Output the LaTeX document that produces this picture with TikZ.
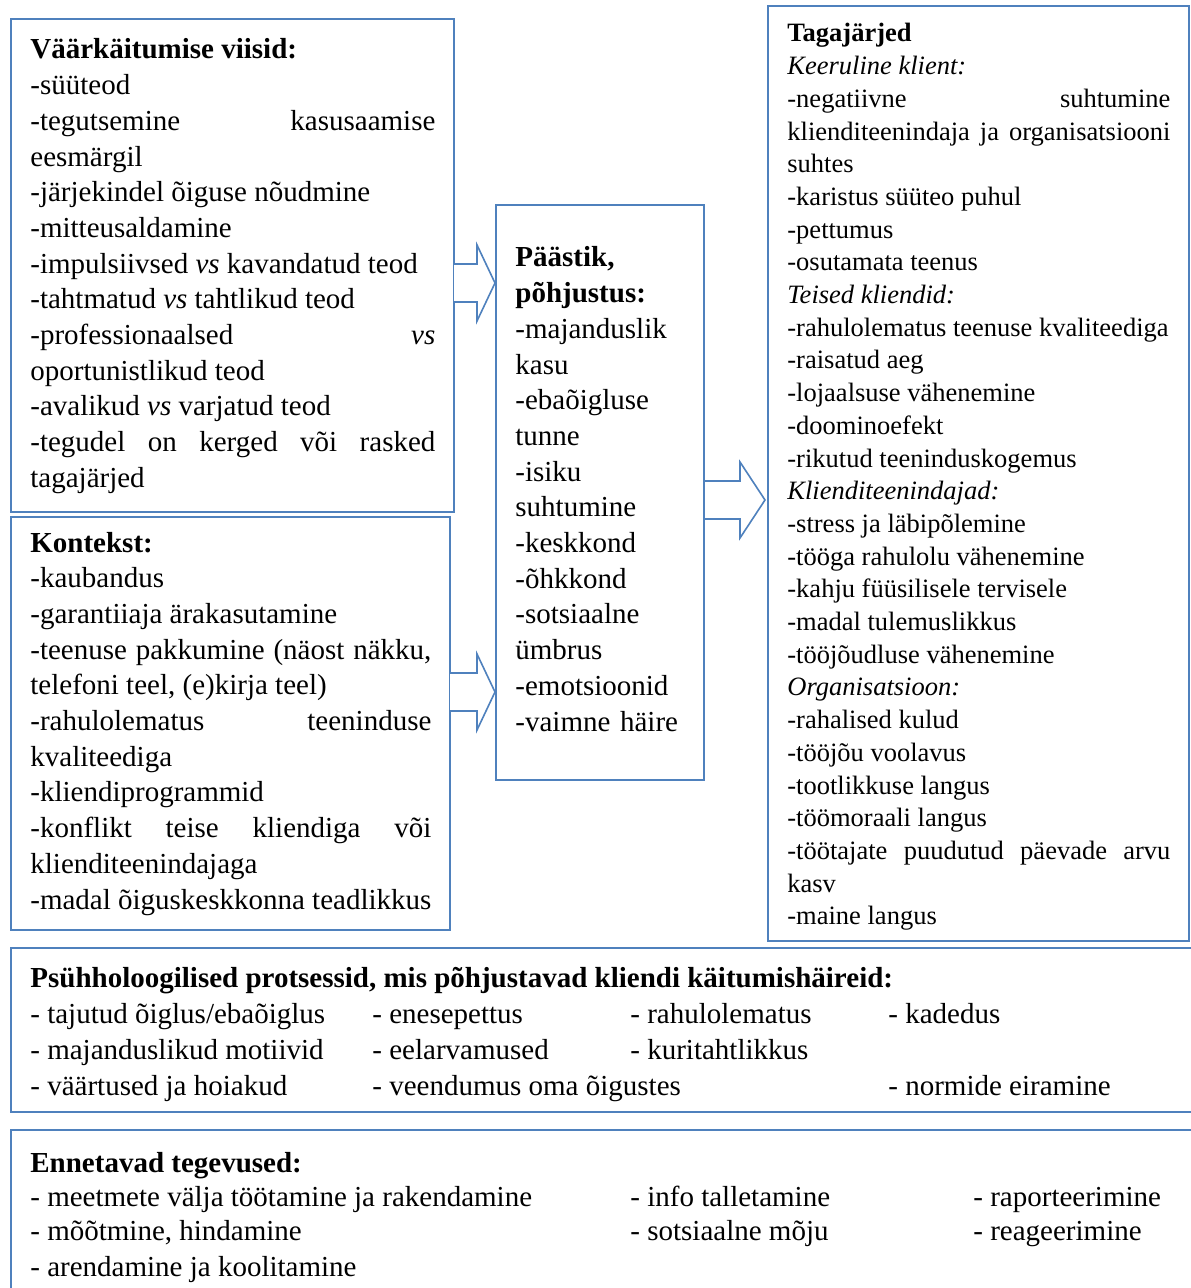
\documentclass[tikz,border=0pt]{standalone}
\usepackage{fontspec}
\setmainfont{Liberation Serif}
\usetikzlibrary{fit}
\definecolor{boxblue}{RGB}{79,129,189}
\tikzset{
	panel/.style={draw=boxblue, line width=1.1pt, inner sep=0pt},
	boxtext/.style={anchor=base west, inner sep=0pt, align=justify,
		font=\fontsize{14.5pt}{17.85pt}\selectfont,
		execute at begin node={\parindent=0pt\hyphenpenalty=10000\exhyphenpenalty=10000}},
	smalltext/.style={boxtext, font=\fontsize{13.25pt}{16.35pt}\selectfont},
	rowtext/.style={anchor=base west, inner sep=0pt, font=\fontsize{14.5pt}{17.85pt}\selectfont},
	blockarrow/.style={draw=boxblue, line width=0.8pt, fill=white, line join=miter}
}
\begin{document}
\begin{tikzpicture}[x=0.5pt, y=-0.5pt]
	\useasboundingbox (0,0) rectangle (1190,1288);
	\node[panel, fit={(11,19) (454,512)}] (viisid) {};
	\node[panel, fit={(11,517) (450,930)}] (kontekst) {};
	\node[panel, fit={(496,205) (704,780)}] (paastik) {};
	\node[panel, fit={(768,6) (1189,941)}] (tagajarjed) {};
	\node[panel, fit={(11,948) (1194,1112)}] (protsessid) {};
	\node[panel, fit={(11,1130) (1194,1300)}] (ennetavad) {};
	\foreach \xa/\xh/\xb/\yc in {454/477/495/283, 705/740/765/500, 450/477/495/692}
		\draw[blockarrow] (\xa,{\yc-19}) -- (\xh,{\yc-19}) -- (\xh,{\yc-38}) -- (\xb,\yc)
		-- (\xh,{\yc+38}) -- (\xh,{\yc+19}) -- (\xa,{\yc+19});
	\node[boxtext, text width=202.5pt] (viisidtext) at (30,59) {\textbf{Väärkäitumise viisid:}\par
		-süüteod\par
		-tegutsemine kasusaamise\linebreak eesmärgil\par
		-järjekindel õiguse nõudmine\par
		-mitteusaldamine\par
		-impulsiivsed \textit{vs} kavandatud teod\par
		-tahtmatud \textit{vs} tahtlikud teod\par
		-professionaalsed \textit{vs}\linebreak oportunistlikud teod\par
		-avalikud \textit{vs} varjatud teod\par
		-tegudel on kerged või rasked\linebreak tagajärjed};
	\node[boxtext, text width=200.5pt] (kontekstitext) at (30,552) {\textbf{Kontekst:}\par
		-kaubandus\par
		-garantiiaja ärakasutamine\par
		-teenuse pakkumine (näost näkku,\linebreak telefoni teel, (e)kirja teel)\par
		-rahulolematus teeninduse\linebreak kvaliteediga\par
		-kliendiprogrammid\par
		-konflikt teise kliendiga või\linebreak klienditeenindajaga\par
		-madal õiguskeskkonna teadlikkus};
	\node[boxtext, align=left, text width=90pt] (paastiktext) at (515,267) {\textbf{Päästik,}\\
		\textbf{põhjustus:}\\
		-majanduslik\\
		kasu\\
		-ebaõigluse\\
		tunne\\
		-isiku\\
		suhtumine\\
		-keskkond\\
		-õhkkond\\
		-sotsiaalne\\
		ümbrus\\
		-emotsioonid\\
		-vaimne häire};
	\node[smalltext, text width=191.5pt] (tagajarjedtext) at (787,42) {\textbf{Tagajärjed}\par
		\textit{Keeruline klient:}\par
		-negatiivne suhtumine\linebreak klienditeenindaja ja organisatsiooni\linebreak suhtes\par
		-karistus süüteo puhul\par
		-pettumus\par
		-osutamata teenus\par
		\textit{Teised kliendid:}\par
		-rahulolematus teenuse kvaliteediga\par
		-raisatud aeg\par
		-lojaalsuse vähenemine\par
		-doominoefekt\par
		-rikutud teeninduskogemus\par
		\textit{Klienditeenindajad:}\par
		-stress ja läbipõlemine\par
		-tööga rahulolu vähenemine\par
		-kahju füüsilisele tervisele\par
		-madal tulemuslikkus\par
		-tööjõudluse vähenemine\par
		\textit{Organisatsioon:}\par
		-rahalised kulud\par
		-tööjõu voolavus\par
		-tootlikkuse langus\par
		-töömoraali langus\par
		-töötajate puudutud päevade arvu\linebreak kasv\par
		-maine langus};
	\node[rowtext] (protsessidtitle) at (30,987) {\textbf{Psühholoogilised protsessid, mis põhjustavad kliendi käitumishäireid:}};
	\foreach \x/\y/\t [count=\i] in {30/1023/{- tajutud õiglus/ebaõiglus}, 372/1023/{- enesepettus},
		630/1023/{- rahulolematus}, 888/1023/{- kadedus},
		30/1059/{- majanduslikud motiivid}, 372/1059/{- eelarvamused}, 630/1059/{- kuritahtlikkus},
		30/1095/{- väärtused ja hoiakud}, 372/1095/{- veendumus oma õigustes}, 888/1095/{- normide eiramine}}
		\node[rowtext] (protsess\i) at (\x,\y) {\t};
	\node[rowtext] (ennetavadtitle) at (30,1172) {\textbf{Ennetavad tegevused:}};
	\foreach \x/\y/\t [count=\i] in {30/1206/{- meetmete välja töötamine ja rakendamine}, 630/1206/{- info talletamine},
		973/1206/{- raporteerimine}, 30/1240/{- mõõtmine, hindamine}, 630/1240/{- sotsiaalne mõju},
		973/1240/{- reageerimine}, 30/1276/{- arendamine ja koolitamine}}
		\node[rowtext] (tegevus\i) at (\x,\y) {\t};
\end{tikzpicture}
\end{document}
